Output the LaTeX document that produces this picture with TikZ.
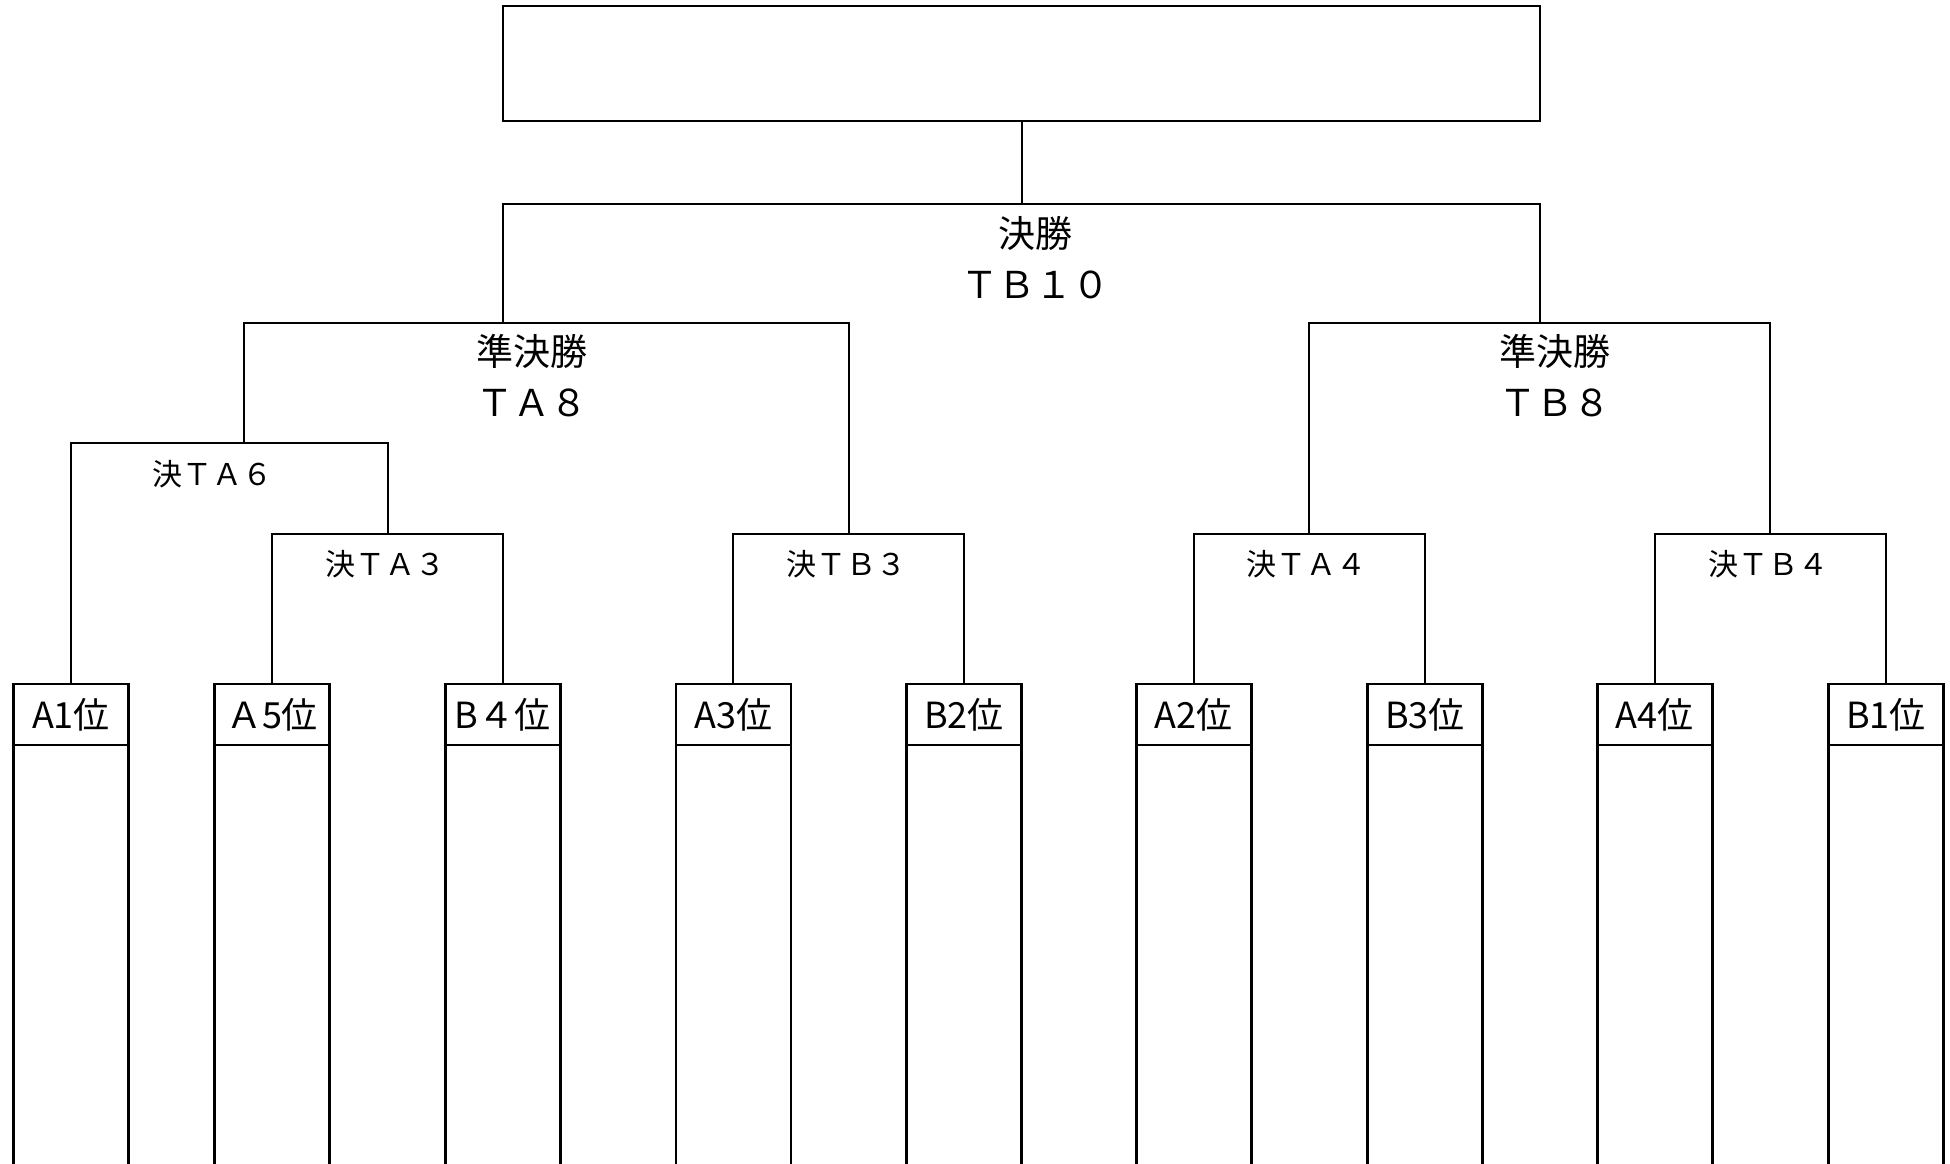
\documentclass[tikz,border=0pt]{standalone}
\usepackage{fontspec}
\setmainfont{Noto Sans CJK JP}
\begin{document}
\begin{tikzpicture}[x=1pt,y=-1pt,
  br/.style={line width=2pt},
  bigtxt/.style={align=center,inner sep=0pt,font=\fontsize{37}{51}\selectfont},
  smalltxt/.style={inner sep=0pt,font=\fontsize{30}{36}\selectfont},
  leafbox/.style={draw,line width=2.8pt,minimum width=115pt,minimum height=61pt,inner sep=0pt,outer sep=0pt,font=\fontsize{36}{42}\selectfont},
  leafline/.style={line width=2.8pt},
  topbox/.style={draw,line width=2.4pt,minimum width=1037pt,minimum height=115pt,inner sep=0pt,outer sep=0pt}]
\useasboundingbox (0,0) rectangle (1950,1163);
\fill[white] (0,0) rectangle (1950,1163);
\clip (0,0) rectangle (1950,1163);

% top box
\node[topbox] (top) at (1021.5,63.5) {};

% leaf boxes
\node[leafbox] (A1) at (71,714.5) {A1位};
\node[leafbox] (A5) at (272,714.5) {Ａ5位};
\node[leafbox] (B4) at (502.7,714.5) {B４位};
\node[leafbox] (A3) at (733.4,714.5) {A3位};
\node[leafbox] (B2) at (963.9,714.5) {B2位};
\node[leafbox] (A2) at (1193.6,714.5) {A2位};
\node[leafbox] (B3) at (1424.8,714.5) {B3位};
\node[leafbox] (A4) at (1654.9,714.5) {A4位};
\node[leafbox] (B1) at (1886,714.5) {B1位};

\foreach \n in {A1,A5,B4,A3,B2,A2,B3,A4,B1}{
  \draw[leafline] (\n.south west) -- ++(0,460);
  \draw[leafline] (\n.south east) -- ++(0,460);
}

% junction coordinates
\coordinate (F) at (1021.5,204);
\coordinate (jSL) at (503,323);
\coordinate (jSR) at (1540,323);
\coordinate (jTA6) at (244,443);
\coordinate (jTA3) at (388,534);
\coordinate (jTB3) at (848.6,534);
\coordinate (jTA4) at (1308.5,534);
\coordinate (jTB4) at (1770,534);

% brackets
\draw[br] (top.south) -- (F);
\draw[br] (jSL) |- (F) -| (jSR);
\draw[br] (jTA6) |- (jSL) -| (jTB3);
\draw[br] (jTA4) |- (jSR) -| (jTB4);
\draw[br] (A1.north) |- (jTA6) -| (jTA3);
\draw[br] (A5.north) |- (jTA3) -| (B4.north);
\draw[br] (A3.north) |- (jTB3) -| (B2.north);
\draw[br] (A2.north) |- (jTA4) -| (B3.north);
\draw[br] (A4.north) |- (jTB4) -| (B1.north);

% labels
\node[bigtxt] (lfin) at (1035.5,257.5) {決勝\\ＴＢ１０};
\node[bigtxt] (lsemiL) at (532,376) {準決勝\\ＴＡ８};
\node[bigtxt] (lsemiR) at (1554.6,376) {準決勝\\ＴＢ８};
\node[smalltxt] (lTA6) at (212.7,474) {決ＴＡ６};
\node[smalltxt] (lTA3) at (385,564) {決ＴＡ３};
\node[smalltxt] (lTB3) at (846,564) {決ＴＢ３};
\node[smalltxt] (lTA4) at (1306.7,564) {決ＴＡ４};
\node[smalltxt] (lTB4) at (1768,564) {決ＴＢ４};
\end{tikzpicture}
\end{document}
